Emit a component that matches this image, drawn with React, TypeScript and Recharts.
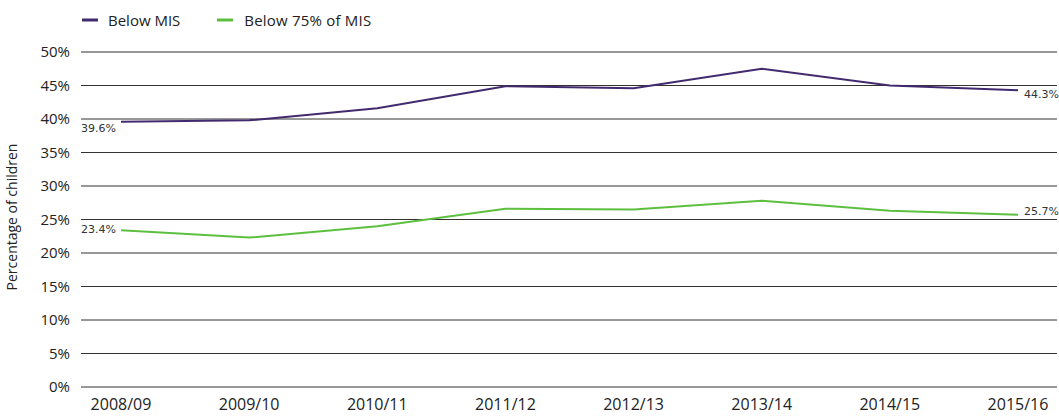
import React from "react";
import { LineChart, Line, XAxis, YAxis, CartesianGrid } from "recharts";

const years = ["2008/09", "2009/10", "2010/11", "2011/12", "2012/13", "2013/14", "2014/15", "2015/16"];
const belowMIS = [39.6, 39.8, 41.6, 44.9, 44.6, 47.5, 45.0, 44.3];
const below75 = [23.4, 22.3, 24.0, 26.6, 26.5, 27.8, 26.3, 25.7];
const yTicks = [0, 5, 10, 15, 20, 25, 30, 35, 40, 45, 50];

const PURPLE = "#432a6f";
const GREEN = "#5cbf3f";
const FONT = "'Open Sans', sans-serif";

const data = years.map((y, i) => ({ year: y, mis: belowMIS[i], mis75: below75[i] }));

const makeLabel = (firstDy: number, lastDy: number) => (props: any) => {
  const { x, y, value, index } = props;
  if (index === 0) {
    return (
      <text x={x - 40} y={y + firstDy} fontSize={11} fill="#333" fontFamily="'DejaVu Sans', sans-serif" dominantBaseline="middle">
        {value.toFixed(1)}%
      </text>
    );
  }
  if (index === years.length - 1) {
    return (
      <text x={x + 6} y={y + lastDy} fontSize={11} fill="#333" fontFamily="'DejaVu Sans', sans-serif" dominantBaseline="middle">
        {value.toFixed(1)}%
      </text>
    );
  }
  return null;
};

export default function App() {
  return (
    <div style={{ position: "absolute", left: 0, top: 0, width: 1059, height: 416, background: "#fff" }}>
      <div
        style={{
          position: "absolute",
          left: 82,
          top: 9,
          height: 22,
          display: "flex",
          alignItems: "center",
          fontFamily: FONT,
          fontSize: 15,
          color: "#222",
          zIndex: 2,
          whiteSpace: "nowrap",
        }}
      >
        <svg width={16} height={4} style={{ marginRight: 10 }}>
          <line x1={0} y1={2} x2={16} y2={2} stroke={PURPLE} strokeWidth={3} />
        </svg>
        <span style={{ marginRight: 37 }}>Below MIS</span>
        <svg width={16} height={4} style={{ marginRight: 11 }}>
          <line x1={0} y1={2} x2={16} y2={2} stroke={GREEN} strokeWidth={3} />
        </svg>
        <span style={{ letterSpacing: 0.2 }}>Below 75% of MIS</span>
      </div>
      <LineChart width={1059} height={416} data={data} margin={{ top: 52, right: 2, bottom: 0, left: 0 }}>
        <CartesianGrid vertical={false} stroke="#333" strokeWidth={1} />
        <XAxis
          dataKey="year"
          axisLine={false}
          tickLine={false}
          tickSize={0}
          tickMargin={12}
          height={29}
          padding={{ left: 40, right: 39 }}
          tick={{ fontSize: 16, fill: "#222", fontFamily: FONT }}
          interval={0}
        />
        <YAxis
          domain={[0, 50]}
          ticks={yTicks}
          width={81}
          axisLine={false}
          tickLine={false}
          tickSize={0}
          tickMargin={11}
          tickFormatter={(v: number) => `${v}%`}
          tick={{ fontSize: 15, fill: "#222", fontFamily: FONT }}
        />
        <Line
          dataKey="mis"
          name="Below MIS"
          stroke={PURPLE}
          strokeWidth={2}
          dot={false}
          isAnimationActive={false}
          label={makeLabel(7, 5)}
        />
        <Line
          dataKey="mis75"
          name="Below 75% of MIS"
          stroke={GREEN}
          strokeWidth={2}
          dot={false}
          isAnimationActive={false}
          label={makeLabel(0, -3)}
        />
        <text
          x={13}
          y={217}
          transform="rotate(-90 13 217)"
          textAnchor="middle"
          dominantBaseline="middle"
          fontSize={14}
          fill="#222"
          fontFamily={FONT}
        >
          Percentage of children
        </text>
      </LineChart>
    </div>
  );
}
